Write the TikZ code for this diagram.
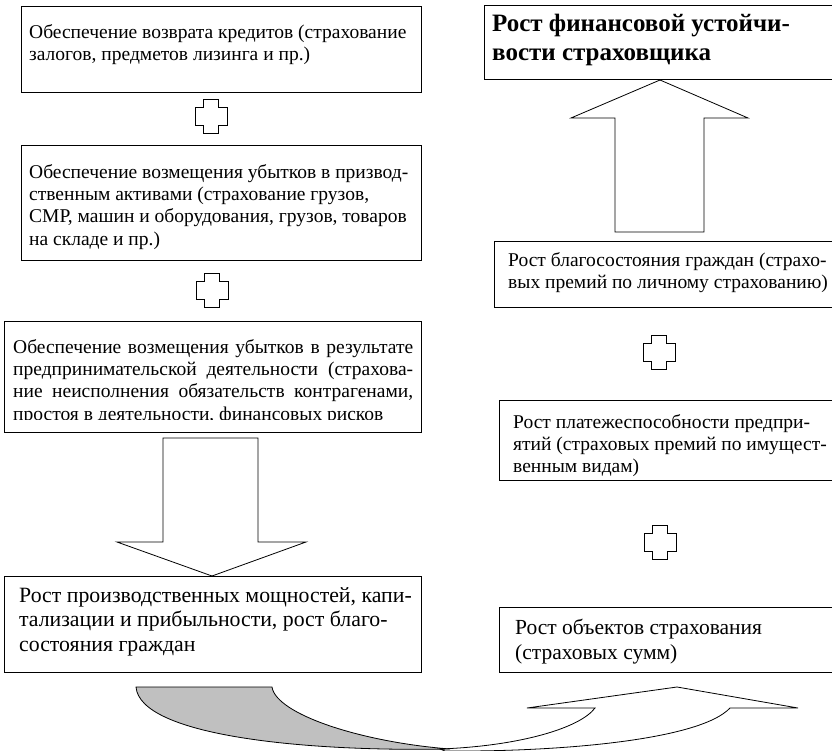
\documentclass[tikz,border=0pt]{standalone}
\usepackage{fontspec}
\setmainfont{Liberation Serif}
\definecolor{arrgray}{RGB}{192,192,192}
\begin{document}
\begin{tikzpicture}[x=1pt,y=-1pt,
  box/.style={draw, line width=0.9pt, inner sep=0pt, anchor=north west},
  txt/.style={anchor=north west, inner sep=0pt, align=left, font=\fontsize{19.5}{22.3}\selectfont},
  bigtxt/.style={anchor=north west, inner sep=0pt, align=left, font=\fontsize{21.5}{24.5}\selectfont},
  ttl/.style={anchor=north west, inner sep=0pt, align=left, font=\fontsize{25}{29}\selectfont\bfseries},
  blockarrow/.style={draw, line width=0.8pt, fill=white, line join=miter},
  pluspic/.pic={\draw[line width=0.8pt, fill=white] (-7.5,-17) -- (7.5,-17) -- (7.5,-9) -- (16,-9) -- (16,9) -- (7.5,9) -- (7.5,17) -- (-7.5,17) -- (-7.5,9) -- (-16,9) -- (-16,-9) -- (-7.5,-9) -- cycle;}]
\useasboundingbox (0,0) rectangle (832,751);
\begin{scope}
\clip (0,0) rectangle (832,751);
% left column boxes
\node[box, minimum width=400pt, minimum height=86pt] (b1) at (21,6) {};
\node[txt] (t1) at (29,24) {Обеспечение возврата кредитов (страхование\\залогов, предметов лизинга и пр.)};
\pic (p1) at (211,116) {pluspic};
\node[box, minimum width=400pt, minimum height=115pt] (b2) at (21,145) {};
\node[txt] (t2) at (29,164) {Обеспечение возмещения убытков в призвод-\\ственным активами (страхование грузов,\\СМР, машин и оборудования, грузов, товаров\\на складе и пр.)};
\pic (p2) at (212,290) {pluspic};
\node[box, minimum width=417pt, minimum height=111pt] (b3) at (4,321) {};
\begin{scope}
\clip (4,321) rectangle (421,419);
\node[txt] (t3) at (13,339) {\makebox[400pt][s]{Обеспечение возмещения убытков в результате}\\\makebox[400pt][s]{предпринимательской деятельности (страхова-}\\\makebox[400pt][s]{ние неисполнения обязательств контрагенами,}\\простоя в деятельности, финансовых рисков};
\end{scope}
% down block arrow
\draw[blockarrow] (163,438) -- (258,438) -- (258,542) -- (306,542) -- (212,576) -- (117,542) -- (163,542) -- cycle;
\node[box, minimum width=417pt, minimum height=96pt] (b4) at (4,576) {};
\node[bigtxt, font=\fontsize{21.8}{24.5}\selectfont] (t4) at (19,587) {Рост производственных мощностей, капи-\\тализации и прибыльности, рост благо-\\состояния граждан};
% right column
\node[box, minimum width=400pt, minimum height=74pt] (r1) at (484,5) {};
\node[ttl] (tr1) at (492,14) {Рост финансовой устойчи-\\вости страховщика};
\draw[blockarrow] (615,232) -- (615,118) -- (571,118) -- (660,80) -- (748,118) -- (704,118) -- (704,232) -- cycle;
\node[box, minimum width=400pt, minimum height=66pt] (r2) at (494,241) {};
\node[txt] (tr2) at (508,252) {Рост благосостояния граждан (страхо-\\вых премий по личному страхованию)};
\pic (p3) at (659,352) {pluspic};
\node[box, minimum width=400pt, minimum height=80pt] (r3) at (499,400) {};
\node[txt] (tr3) at (513,414) {Рост платежеспособности предпри-\\ятий (страховых премий по имущест-\\венным видам)};
\pic (p4) at (660,542) {pluspic};
\node[box, minimum width=400pt, minimum height=65pt] (r4) at (499,607) {};
\node[bigtxt] (tr4) at (515,619) {Рост объектов страхования\\(страховых сумм)};
% curved arrow
\draw[blockarrow] (440,749) .. controls (520,746) and (580,728) .. (595,708) -- (527,708) -- (677,687) -- (798,708) -- (730,708) .. controls (700,740) and (560,752) .. (445,751) -- cycle;
\draw[line width=0.8pt, fill=arrgray] (136,687) -- (272,687) .. controls (276,714) and (360,742) .. (450,749) .. controls (300,752) and (140,735) .. (136,687) -- cycle;
\end{scope}
\end{tikzpicture}
\end{document}
